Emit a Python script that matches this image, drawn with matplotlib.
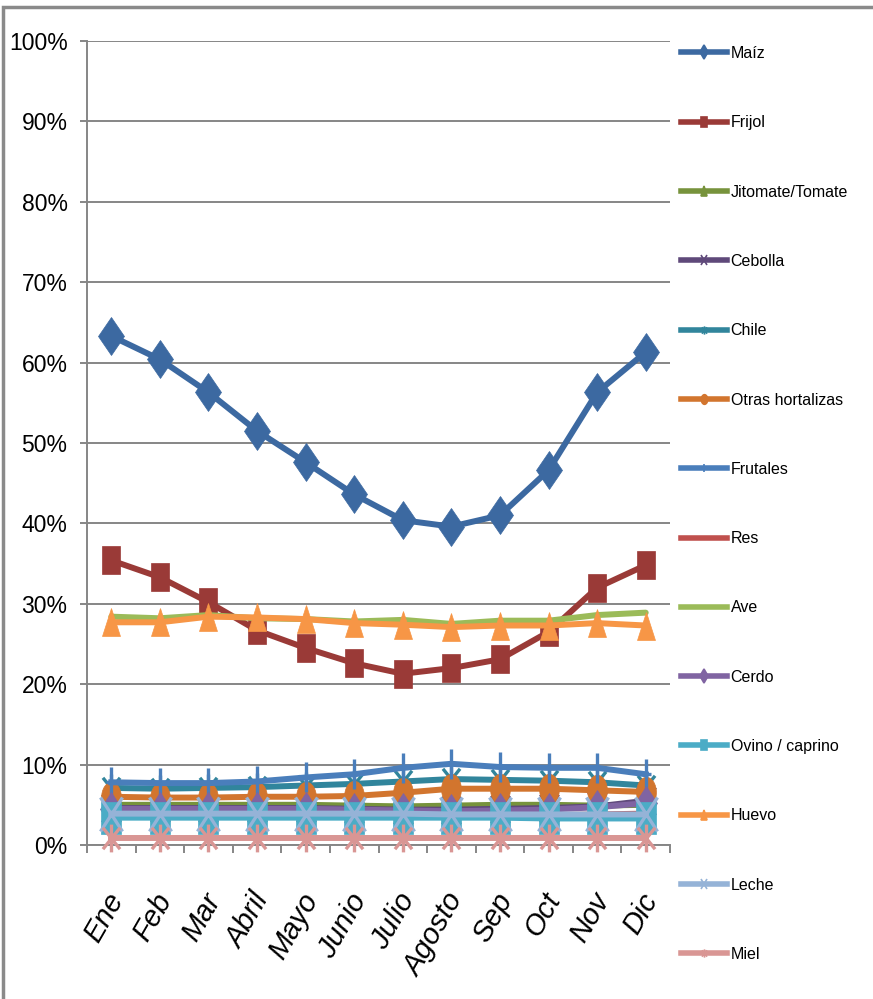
import matplotlib
matplotlib.use("Agg")
import matplotlib.pyplot as plt
from matplotlib.markers import MarkerStyle
from matplotlib.transforms import Affine2D, ScaledTranslation
from matplotlib.lines import Line2D
from matplotlib.patches import Rectangle
from matplotlib.path import Path

plt.rcParams['font.family'] = ['Liberation Sans', 'DejaVu Sans']

months = ['Ene', 'Feb', 'Mar', 'Abril', 'Mayo', 'Junio', 'Julio', 'Agosto',
          'Sep', 'Oct', 'Nov', 'Dic']

maiz = [63.3, 60.4, 56.3, 51.5, 47.6, 43.6, 40.4, 39.6, 41.0, 46.6, 56.3, 61.3]
frijol = [35.4, 33.3, 30.2, 26.7, 24.5, 22.6, 21.3, 22.0, 23.1, 26.5, 32.0, 34.8]
jitomate = [5.0, 5.0, 5.0, 5.0, 5.0, 4.9, 4.8, 4.9, 5.0, 5.0, 4.9, 5.0]
cebolla = [4.6, 4.6, 4.6, 4.6, 4.6, 4.5, 4.4, 4.4, 4.5, 4.6, 4.8, 5.5]
chile = [7.1, 7.0, 7.1, 7.2, 7.4, 7.6, 7.9, 8.2, 8.1, 8.0, 7.8, 7.4]
otras = [6.0, 5.9, 5.9, 6.0, 6.0, 6.1, 6.5, 7.0, 7.0, 7.0, 6.8, 6.6]
frutales = [7.8, 7.7, 7.7, 7.9, 8.4, 8.8, 9.6, 10.1, 9.7, 9.6, 9.6, 8.8]
res = [3.6, 3.6, 3.6, 3.6, 3.6, 3.6, 3.6, 3.8, 3.8, 3.7, 3.8, 3.9]
ave = [28.4, 28.2, 28.6, 28.2, 28.1, 27.8, 28.0, 27.5, 27.9, 27.9, 28.6, 28.9]
cerdo = [4.5, 4.5, 4.5, 4.5, 4.5, 4.4, 4.3, 4.2, 4.3, 4.4, 4.7, 5.2]
ovino = [3.4, 3.4, 3.4, 3.4, 3.4, 3.4, 3.4, 3.4, 3.4, 3.3, 3.3, 3.3]
huevo = [27.7, 27.7, 28.4, 28.3, 28.1, 27.6, 27.4, 27.1, 27.3, 27.3, 27.6, 27.3]
leche = [3.9, 3.9, 3.9, 3.9, 3.9, 3.9, 3.9, 3.8, 3.8, 3.8, 3.8, 3.8]
miel = [0.9, 0.9, 0.9, 0.9, 0.9, 0.9, 0.9, 0.9, 0.9, 0.9, 0.9, 0.9]

names = ['Maíz', 'Frijol', 'Jitomate/Tomate', 'Cebolla', 'Chile', 'Otras hortalizas',
         'Frutales', 'Res', 'Ave', 'Cerdo', 'Ovino / caprino', 'Huevo', 'Leche', 'Miel']
series = [maiz, frijol, jitomate, cebolla, chile, otras, frutales, res, ave, cerdo,
          ovino, huevo, leche, miel]
colors = ['#3c69a1', '#9a3a37', '#77933c', '#5f497a', '#31859c', '#d2752e',
          '#4a7ebb', '#c0504d', '#9bbb59', '#8064a2', '#4bacc6', '#f79646',
          '#95b3d7', '#d99694']
markers = ['D', 's', '^', 'x', '*x', 'o', '+', None, None, 'D', 's', '^', 'x', '*x']
msizes = [17, 17, 17, 17, 20, 19, 21, 0, 0, 15, 20, 17, 21, 20]

# tall markers (the original picture is stretched vertically)
stretch = Affine2D().scale(0.75, 1.15)


def make_marker(m):
    if m == '*x':
        verts = [(-1, -1), (1, 1), (-1, 1), (1, -1), (0, -1.3), (0, 1.3)]
        codes = [Path.MOVETO, Path.LINETO, Path.MOVETO, Path.LINETO, Path.MOVETO, Path.LINETO]
        return MarkerStyle(Path(verts, codes), transform=Affine2D().scale(0.8, 1.0))
    if m == '+':
        verts = [(0, -1.6), (0, 1.6), (-0.5, 0), (0.5, 0)]
        codes = [Path.MOVETO, Path.LINETO, Path.MOVETO, Path.LINETO]
        return MarkerStyle(Path(verts, codes))
    return MarkerStyle(m, transform=stretch)


fig = plt.figure(figsize=(8.73, 9.99), dpi=100)
ax = fig.add_axes([87 / 873, 1 - 845 / 999, (670 - 87) / 873, (845 - 41) / 999])

x = list(range(len(months)))
for i, (name, vals) in enumerate(zip(names, series)):
    m = markers[i]
    if m is None:
        ax.plot(x, vals, color=colors[i], lw=4.3, solid_capstyle='round', zorder=2 + i)
    else:
        filled = m in ('D', 's', '^', 'o')
        ax.plot(x, vals, color=colors[i], lw=4.3, marker=make_marker(m),
                ms=msizes[i], mew=2.4 if not filled else 0.5,
                mec=colors[i], mfc=colors[i], zorder=2 + i, clip_on=False)

ax.set_xlim(-0.5, 11.5)
ax.set_ylim(0, 100)
ax.set_yticks(range(0, 101, 10))
ax.set_yticklabels([f'{v}%' for v in range(0, 101, 10)], fontsize=16.5)
ax.yaxis.grid(True, color='#868686', lw=1.4)
ax.set_axisbelow(True)
for s in ['top', 'right']:
    ax.spines[s].set_visible(False)
for s in ['left', 'bottom']:
    ax.spines[s].set_color('#868686')
    ax.spines[s].set_linewidth(1.4)
ax.tick_params(axis='y', length=5, color='#868686', width=1.4, pad=9)

ax.set_xticks(x)
ax.set_xticks([v - 0.5 for v in range(13)], minor=True)
ax.tick_params(axis='x', which='major', length=0, pad=31)
ax.tick_params(axis='x', which='minor', length=6, color='#868686', width=1.4)
offset = ScaledTranslation(18 / 100, 0, fig.dpi_scale_trans)
ax.set_xticklabels(months, rotation=60, ha='right', va='top', fontsize=21,
                   fontstyle='italic')
for lab in ax.get_xticklabels():
    lab.set_transform(lab.get_transform() + offset)

handles = []
for i, name in enumerate(names):
    m = markers[i]
    if m is None:
        handles.append(Line2D([], [], color=colors[i], lw=4))
    else:
        handles.append(Line2D([], [], color=colors[i], lw=4, marker=make_marker(m),
                              ms=6, mew=1.2, mec=colors[i], mfc=colors[i]))
fig.legend(handles, names, loc='upper left', bbox_to_anchor=(681 / 873, 1 - 46 / 999),
           frameon=False, fontsize=11.5, labelspacing=3.4, handlelength=2.9,
           handletextpad=0.2, borderpad=0, borderaxespad=0)

fig.add_artist(Rectangle((3.5 / 873, -0.1), 1.2, 1.1 - 6.5 / 999,
                         transform=fig.transFigure, fill=False,
                         edgecolor='#8a8a8a', lw=2.5))

fig.savefig('out.png', dpi=100)
